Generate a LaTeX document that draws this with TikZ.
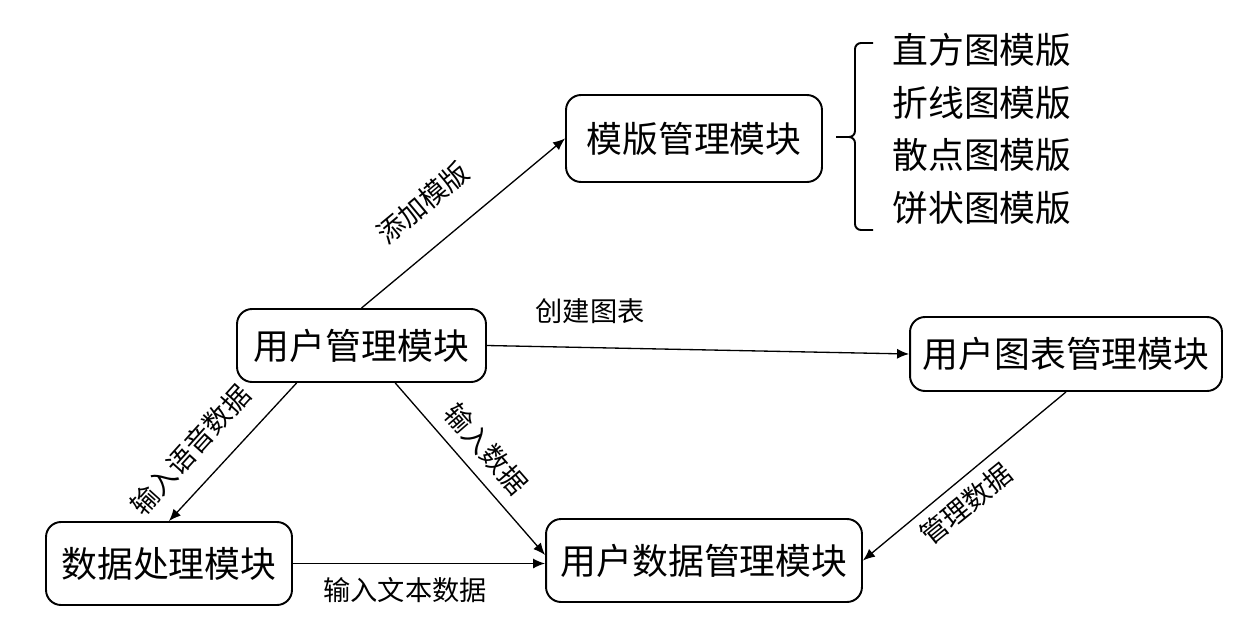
\documentclass[tikz,border=0pt]{standalone}
\usepackage{fontspec}
\setmainfont{Noto Sans CJK SC}
\usetikzlibrary{arrows.meta}

\begin{document}
\begin{tikzpicture}[
    x=0.02cm, y=-0.02cm,
    module/.style={draw, line width=1.1pt, rounded corners=0.3cm, inner sep=0pt, font=\fontsize{20.4}{24}\selectfont},
    tmplitem/.style={inner sep=0pt, font=\fontsize{20.4}{24}\selectfont},
    lbl/.style={inner sep=0pt, font=\fontsize{15.5}{18}\selectfont},
    flow/.style={-{Latex[length=2.4mm, width=2mm]}, line width=0.75pt}
]
    \useasboundingbox (0,0) rectangle (1252,640);

    \node[module, minimum width=5.12cm, minimum height=1.74cm] (tmpl) at (694,138.5) {模版管理模块};
    \node[module, minimum width=4.98cm, minimum height=1.46cm] (user) at (361.5,345.5) {用户管理模块};
    \node[module, minimum width=6.24cm, minimum height=1.48cm] (chart) at (1066,354) {用户图表管理模块};
    \node[module, minimum width=4.92cm, minimum height=1.66cm] (proc) at (169,563.5) {数据处理模块};
    \node[module, minimum width=6.32cm, minimum height=1.66cm] (data) at (704,560.5) {用户数据管理模块};

    % template list with brace
    \draw[line width=1.1pt, rounded corners=0.12cm] (873,43) -- (855,43) -- (855,137) -- (836,137);
    \draw[line width=1.1pt, rounded corners=0.12cm] (836,137) -- (855,137) -- (855,230) -- (873,230);
    \node[tmplitem] (hist) at (982,50) {直方图模版};
    \node[tmplitem] (line) at (982,103) {折线图模版};
    \node[tmplitem] (scatter) at (982,155) {散点图模版};
    \node[tmplitem] (pie) at (982,208) {饼状图模版};

    % connectors
    \draw[flow] (user.north) -- (tmpl.west);
    \draw[flow] (user.east) -- (chart.west);
    \draw[flow] (user.210) -- (proc.north);
    \draw[flow] (user.312) -- (data.178);
    \draw[flow] (chart.south) -- (data.east);
    \draw[flow] (proc.east) -- (proc.east -| data.west);

    % labels
    \node[lbl, rotate=39.8] (addlbl) at (423,203) {添加模版};
    \node[lbl] (createlbl) at (590,311) {创建图表};
    \node[lbl, rotate=48] (voicelbl) at (190,450) {输入语音数据};
    \node[lbl, rotate=-49] (inputlbl) at (486,449) {输入数据};
    \node[lbl, rotate=39] (managelbl) at (966,504) {管理数据};
    \node[lbl] (textlbl) at (405,590) {输入文本数据};
\end{tikzpicture}
\end{document}
